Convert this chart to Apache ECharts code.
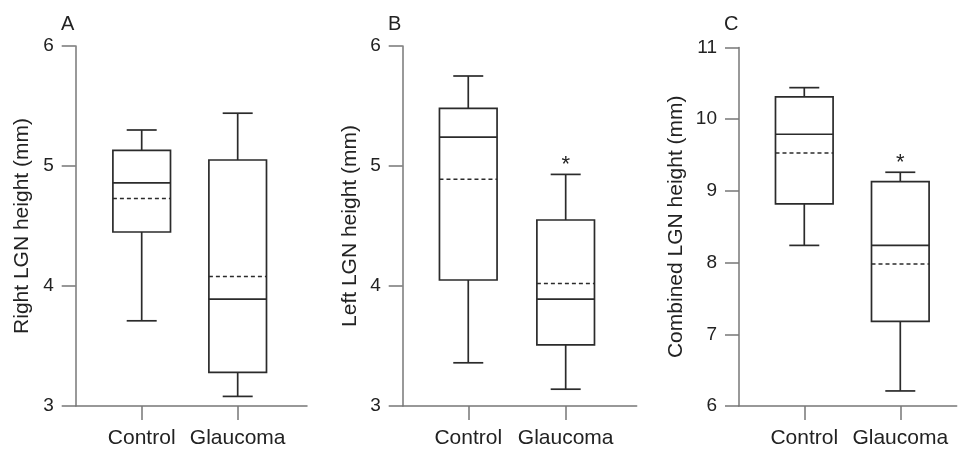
<!DOCTYPE html>
<html>
<head>
<meta charset="utf-8">
<script src="https://cdn.jsdelivr.net/npm/echarts@6/dist/echarts.min.js"></script>
<style>
html,body{margin:0;padding:0;background:#fff;}
#chart{width:958px;height:449px;}
</style>
</head>
<body>
<div id="chart"></div>
<script>
// ---- data ----
const categories = ['Control', 'Glaucoma'];
const panelLetters = ['A', 'B', 'C'];
const axisNames = ['Right LGN height (mm)', 'Left LGN height (mm)', 'Combined LGN height (mm)'];

const rightMin    = [3.71, 3.08];
const rightQ1     = [4.45, 3.28];
const rightMedian = [4.86, 3.89];
const rightQ3     = [5.13, 5.05];
const rightMax    = [5.30, 5.44];
const rightMean   = [4.73, 4.08];
const rightSig    = ['', ''];

const leftMin     = [3.36, 3.14];
const leftQ1      = [4.05, 3.51];
const leftMedian  = [5.24, 3.89];
const leftQ3      = [5.48, 4.55];
const leftMax     = [5.75, 4.93];
const leftMean    = [4.89, 4.02];
const leftSig     = ['', '*'];

const combMin     = [8.24, 6.21];
const combQ1      = [8.82, 7.18];
const combMedian  = [9.79, 8.24];
const combQ3      = [10.31, 9.13];
const combMax     = [10.44, 9.26];
const combMean    = [9.53, 7.98];
const combSig     = ['', '*'];

const yRangeAB = [3, 6];
const yRangeC  = [6, 11];
const yInterval = 1;

// ---- build ----
const panels = [
  {min: rightMin, q1: rightQ1, med: rightMedian, q3: rightQ3, max: rightMax, mean: rightMean, sig: rightSig, yr: yRangeAB},
  {min: leftMin,  q1: leftQ1,  med: leftMedian,  q3: leftQ3,  max: leftMax,  mean: leftMean,  sig: leftSig,  yr: yRangeAB},
  {min: combMin,  q1: combQ1,  med: combMedian,  q3: combQ3,  max: combMax,  mean: combMean,  sig: combSig,  yr: yRangeC}
];

const gridPos = [
  {left: 75.7, width: 231.3, top: 46, bottom: 39.7, xmin: -0.6875, xmax: 1.722, nameGap: 43, titleLeft: 61},
  {left: 402.7, width: 234, top: 46, bottom: 39.7, xmin: -0.673, xmax: 1.729, nameGap: 42, titleLeft: 388},
  {left: 739, width: 217.7, top: 47.5, bottom: 39.7, xmin: -0.68, xmax: 1.5875, nameGap: 52.5, titleLeft: 724}
];

const FONT = 'Liberation Sans, Arial, Helvetica, sans-serif';
const LINE = '#2b2b2b';
const AXIS = '#777';

const grids = [], xAxes = [], yAxes = [], series = [], titles = [];
panels.forEach((p, i) => {
  const g = gridPos[i];
  grids.push({left: g.left, width: g.width, top: g.top, bottom: g.bottom, containLabel: false});
  titles.push({text: panelLetters[i], left: g.titleLeft, top: 14, padding: 0,
    textStyle: {fontFamily: FONT, fontSize: 20, fontWeight: 'normal', color: '#222'}});
  xAxes.push({
    type: 'value', gridIndex: i, min: g.xmin, max: g.xmax,
    splitLine: {show: false},
    axisLine: {show: true, onZero: false, lineStyle: {color: AXIS, width: 1.5}},
    axisTick: {show: true, length: 14, inside: false, customValues: [0, 1], lineStyle: {color: AXIS, width: 1.5}},
    axisLabel: {show: true, customValues: [0, 1], margin: 22, formatter: v => categories[Math.round(v)],
      fontFamily: FONT, fontSize: 21, color: '#222'}
  });
  yAxes.push({
    type: 'value', gridIndex: i, min: p.yr[0], max: p.yr[1], interval: yInterval,
    name: axisNames[i], nameLocation: 'middle', nameGap: g.nameGap, nameRotate: 90,
    nameTextStyle: {fontFamily: FONT, fontSize: 21, color: '#222'},
    splitLine: {show: false},
    axisLine: {show: true, onZero: false, lineStyle: {color: AXIS, width: 1.5}},
    axisTick: {show: true, length: 14, inside: false, lineStyle: {color: AXIS, width: 1.5}},
    axisLabel: {margin: 22, fontFamily: FONT, fontSize: 19, color: '#222'}
  });
  const data = categories.map((c, k) => [k, p.min[k], p.q1[k], p.med[k], p.q3[k], p.max[k], p.mean[k], p.sig[k]]);
  series.push({
    type: 'custom', xAxisIndex: i, yAxisIndex: i, data: data,
    encode: {x: 0, y: [1, 2, 3, 4, 5, 6]},
    clip: false,
    renderItem: function (params, api) {
      const x = api.value(0);
      const c = (v) => api.coord([x, v]);
      const pMin = c(api.value(1)), pQ1 = c(api.value(2)), pMed = c(api.value(3)),
            pQ3 = c(api.value(4)), pMax = c(api.value(5)), pMean = c(api.value(6));
      const cx = pMed[0];
      const bh = 28.8, ch = 15;
      const st = {stroke: LINE, lineWidth: 1.7, fill: null};
      const children = [
        {type: 'line', shape: {x1: cx, y1: pMax[1], x2: cx, y2: pQ3[1]}, style: st},
        {type: 'line', shape: {x1: cx - ch, y1: pMax[1], x2: cx + ch, y2: pMax[1]}, style: st},
        {type: 'line', shape: {x1: cx, y1: pQ1[1], x2: cx, y2: pMin[1]}, style: st},
        {type: 'line', shape: {x1: cx - ch, y1: pMin[1], x2: cx + ch, y2: pMin[1]}, style: st},
        {type: 'rect', shape: {x: cx - bh, y: pQ3[1], width: 2 * bh, height: pQ1[1] - pQ3[1]}, style: {stroke: LINE, lineWidth: 1.7, fill: '#fff'}},
        {type: 'line', shape: {x1: cx - bh, y1: pMed[1], x2: cx + bh, y2: pMed[1]}, style: st},
        {type: 'line', shape: {x1: cx - bh, y1: pMean[1], x2: cx + bh, y2: pMean[1]}, style: {stroke: LINE, lineWidth: 1.5, lineDash: [4, 3]}}
      ];
      const sig = data[params.dataIndex][7];
      if (sig) {
        children.push({type: 'text', style: {text: sig, x: cx, y: pMax[1] + 2, align: 'center', verticalAlign: 'bottom',
          font: '22px ' + FONT, fill: '#222'}});
      }
      return {type: 'group', children: children};
    }
  });
});

const chart = echarts.init(document.getElementById('chart'), null, {renderer: 'canvas'});
chart.setOption({
  animation: false,
  backgroundColor: '#fff',
  title: titles,
  grid: grids,
  xAxis: xAxes,
  yAxis: yAxes,
  series: series
});
</script>
</body>
</html>
